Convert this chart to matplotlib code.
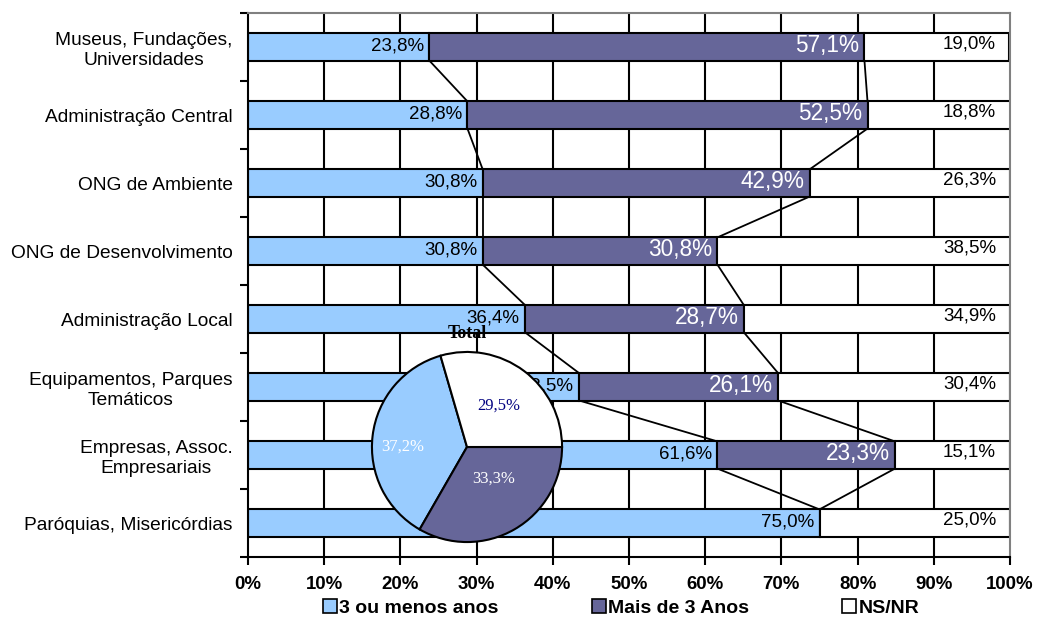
import matplotlib
matplotlib.use("Agg")
import matplotlib.pyplot as plt
from matplotlib.patches import Patch
import numpy as np

categories = [
    "Museus, Fundações,\nUniversidades",
    "Administração Central",
    "ONG de Ambiente",
    "ONG de Desenvolvimento",
    "Administração Local",
    "Equipamentos, Parques\nTemáticos",
    "Empresas, Assoc.\nEmpresariais",
    "Paróquias, Misericórdias",
]
menos3 = [23.8, 28.8, 30.8, 30.8, 36.4, 43.5, 61.6, 75.0]
mais3 = [57.1, 52.5, 42.9, 30.8, 28.7, 26.1, 23.3, 0.0]
nsnr = [19.0, 18.8, 26.3, 38.5, 34.9, 30.4, 15.1, 25.0]

series_names = ["3 ou menos anos", "Mais de 3 Anos", "NS/NR"]
total_values = [37.2, 33.3, 29.5]  # pie "Total", same order as series

xticks = list(range(0, 101, 10))

BLUE = "#99CCFF"
PURPLE = "#666699"
WHITE = "#FFFFFF"
SANS = ["Liberation Sans", "DejaVu Sans"]
SERIF = ["Liberation Serif", "DejaVu Serif"]

plt.rcParams["font.family"] = SANS


def pct(v):
    return f"{v:.1f}%".replace(".", ",")


fig = plt.figure(figsize=(10.39, 6.22), dpi=100)
ax = fig.add_axes([248 / 1039, 1 - 557 / 622, 762 / 1039, 544 / 622])

y = np.arange(len(categories))
h = 0.4
a = np.array(menos3)
b = np.array(mais3)
c = np.array(nsnr)

ax.set_xlim(0, 100)
ax.set_ylim(len(categories) - 0.5, -0.5)

# vertical gridlines
for xv in xticks[1:-1]:
    ax.axvline(xv, color="black", lw=1.5, zorder=0)

kw = dict(height=h, edgecolor="black", linewidth=1.5, zorder=2)
ax.barh(y, a, color=BLUE, **kw)
ax.barh(y, b, left=a, color=PURPLE, **kw)
ax.barh(y, c, left=a + b, color=WHITE, **kw)

# series lines between consecutive bars
for cum in (a, a + b):
    for i in range(len(y) - 1):
        ax.plot([cum[i], cum[i + 1]], [y[i] + h / 2, y[i + 1] - h / 2],
                color="black", lw=1.3, zorder=1)

# value labels, inside end
for i in range(len(y)):
    ax.annotate(pct(a[i]), (a[i], y[i]), xytext=(-4, 1), textcoords="offset points",
                ha="right", va="center", fontsize=13.5, color="black", zorder=3)
    if b[i] > 0:
        ax.annotate(pct(b[i]), (a[i] + b[i], y[i]), xytext=(-4, 1),
                    textcoords="offset points", ha="right", va="center",
                    fontsize=16.3, color="white", zorder=3)
    ax.annotate(pct(c[i]), (100, y[i]), xytext=(-10, 2), textcoords="offset points",
                ha="right", va="center", fontsize=13.5, color="black", zorder=3)

ax.set_xticks(xticks)
ax.set_xticklabels([f"{v}%" for v in xticks], fontweight="bold", fontsize=13.4)
ax.set_yticks(y)
ax.set_yticklabels(categories, fontsize=13.8, multialignment="center")
ax.set_yticks(np.arange(-0.5, len(categories), 1.0), minor=True)
ax.tick_params(axis="y", which="major", length=0, pad=11)
ax.tick_params(axis="y", which="minor", length=6, width=1.5, direction="out")
ax.tick_params(axis="x", length=6, width=1.5, direction="out", pad=8)
for s in ("left", "bottom"):
    ax.spines[s].set_linewidth(1.5)
    ax.spines[s].set_color("black")
for s in ("top", "right"):
    ax.spines[s].set_linewidth(1.5)
    ax.spines[s].set_color("#808080")

fig.legend(
    handles=[Patch(facecolor=col, edgecolor="black", linewidth=1.2)
             for col in (BLUE, PURPLE, WHITE)],
    labels=series_names, ncol=3, loc="center", bbox_to_anchor=(621 / 1039, 1 - 608 / 622),
    frameon=False, handlelength=0.72, handleheight=0.72, handletextpad=0.12,
    columnspacing=4.8, prop={"weight": "bold", "size": 14},
)

# inset pie "Total"
pax = fig.add_axes([(467 - 96) / 1039, 1 - (447 + 96) / 622, 192 / 1039, 192 / 622])
wedges, _, autotexts = pax.pie(
    total_values, colors=[BLUE, PURPLE, WHITE], startangle=106.2, counterclock=True,
    autopct=lambda p: pct(p), pctdistance=0.55,
    wedgeprops=dict(edgecolor="black", linewidth=1.5),
    textprops=dict(family=SERIF, fontsize=12),
)
pax.set_xlim(-1.01, 1.01)
pax.set_ylim(-1.01, 1.01)
for w in wedges:
    w.set_clip_on(False)
for t, col in zip(autotexts, ["white", "white", "#000080"]):
    t.set_color(col)
autotexts[0].set_position((-0.68, 0.0))
autotexts[1].set_position((0.28, -0.33))
pax.set_title("Total", family=SERIF, fontweight="bold", fontsize=13, pad=9)

fig.savefig("out.png", dpi=100, facecolor="white")
